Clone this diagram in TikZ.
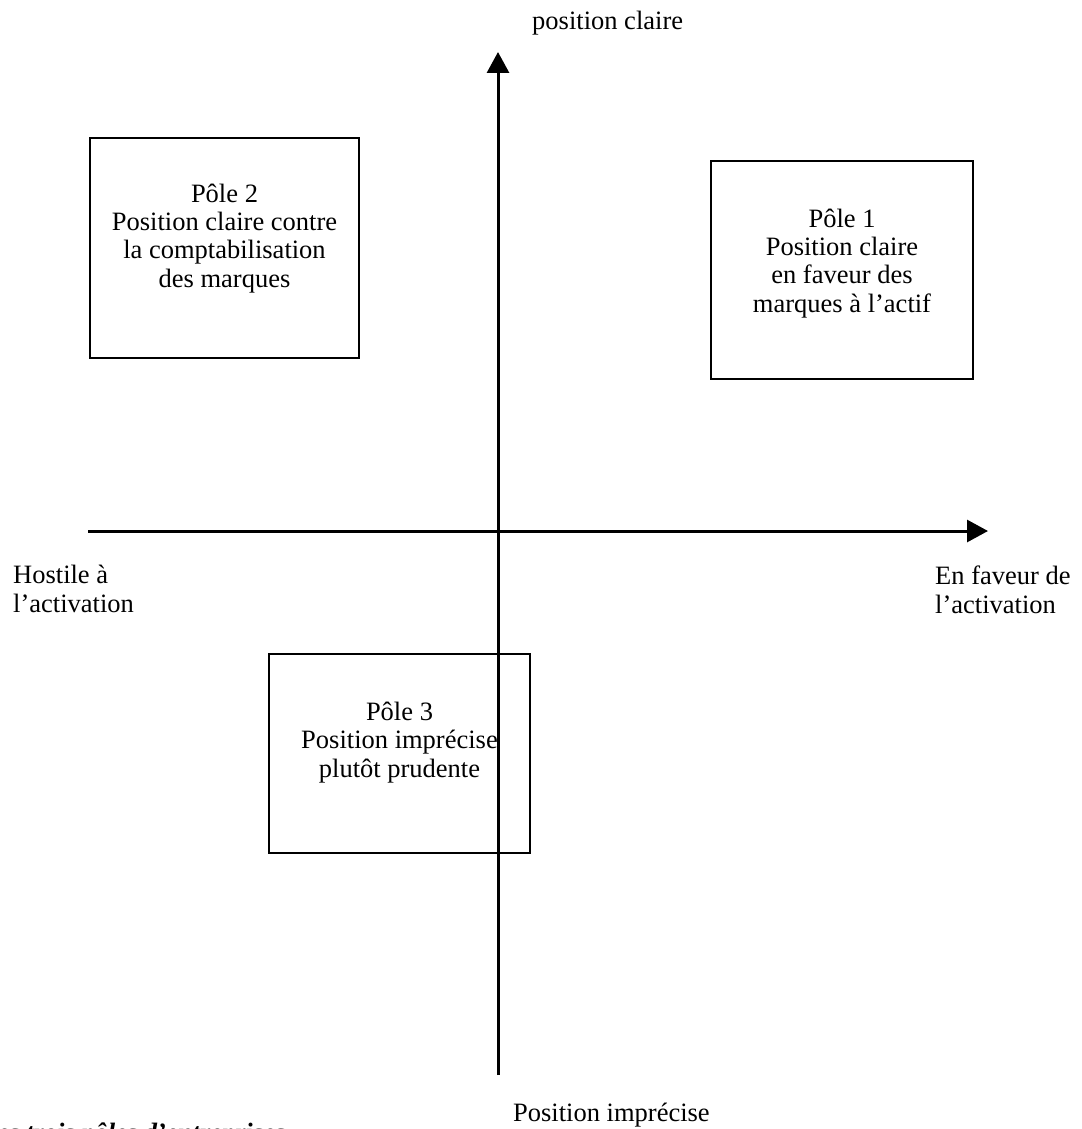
\documentclass[tikz,border=0pt]{standalone}
\usepackage{fontspec}
\setmainfont{Liberation Serif}
\usetikzlibrary{arrows.meta}
\tikzset{
  axis/.style={line width=3pt, -{Triangle[length=21pt,width=22pt]}},
  polebox/.style={draw, line width=2pt, inner sep=0pt},
  lbl/.style={font=\fontsize{26.5pt}{28.3pt}\selectfont, inner sep=0pt, align=center, anchor=base},
  sidelbl/.style={font=\fontsize{26.5pt}{28.3pt}\selectfont, inner sep=0pt, align=left, anchor=base west},
}
\begin{document}
\begin{tikzpicture}[x=1pt,y=-1pt]
\useasboundingbox (0,0) rectangle (1081,1129);
\clip (0,0) rectangle (1081,1129);
% boxes
\node[polebox, minimum width=269pt, minimum height=220pt] (p2) at (224.5,248) {};
\node[polebox, minimum width=262pt, minimum height=218pt] (p1) at (842,270) {};
\node[polebox, minimum width=261pt, minimum height=199pt] (p3) at (399.5,753.5) {};
% box texts (base = baseline of last line)
\node[lbl] (t2) at (224.5,287) {Pôle 2\\Position claire contre\\la comptabilisation\\des marques};
\node[lbl] (t1) at (842,312) {Pôle 1\\Position claire\\en faveur des\\marques à l’actif};
\node[lbl] (t3) at (399.5,777) {Pôle 3\\Position imprécise\\plutôt prudente};
% axes
\coordinate (vbot) at (498,1075);
\coordinate (vtop) at (498,52);
\coordinate (hl) at (88,531);
\coordinate (hr) at (988,531);
\draw[axis] (vbot) -- (vtop);
\draw[axis] (hl) -- (hr);
% axis labels
\node[sidelbl] (top) at (532,30) {position claire};
\node[sidelbl] (left) at (13,612) {Hostile à\\l’activation};
\node[sidelbl] (right) at (935,613) {En faveur de\\l’activation};
\node[sidelbl] (bottom) at (513,1121) {Position imprécise};
\node[sidelbl, font=\fontsize{26.5pt}{28.3pt}\selectfont\bfseries\itshape] (cap) at (-19,1141) {Les trois pôles d’entreprises};
\end{tikzpicture}
\end{document}
